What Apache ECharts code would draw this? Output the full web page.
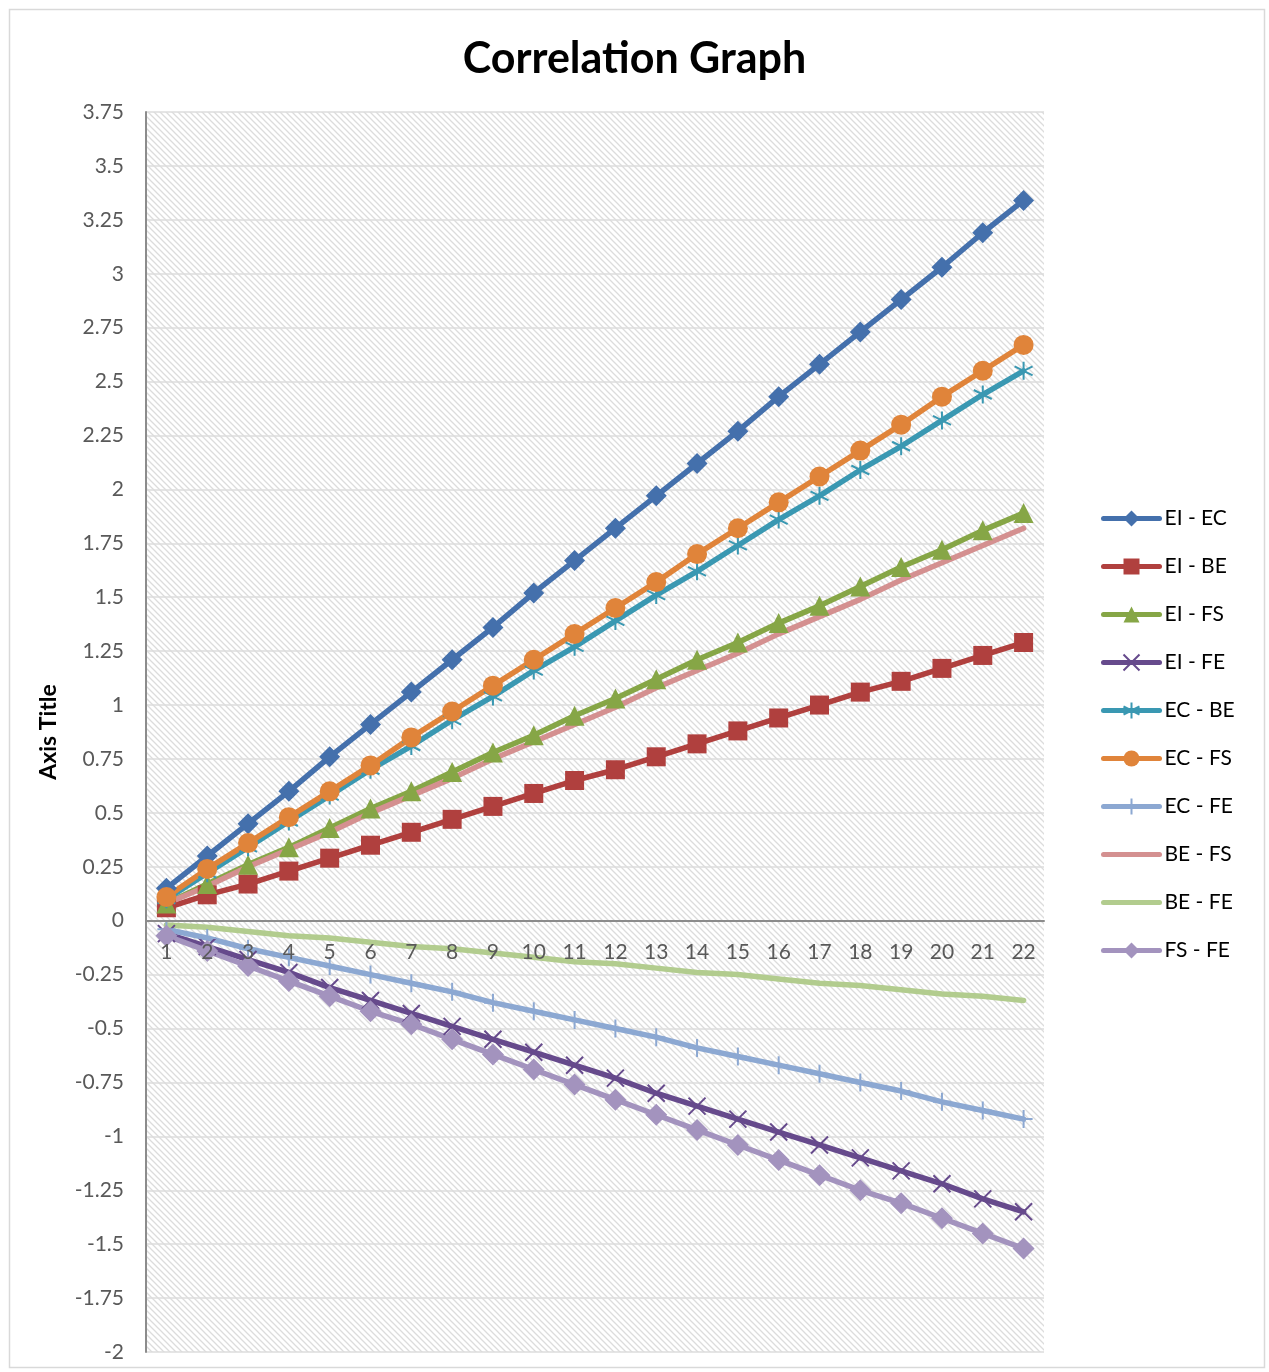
<!DOCTYPE html>
<html>
<head>
<meta charset="utf-8">
<script src="https://cdn.jsdelivr.net/npm/echarts@6/dist/echarts.min.js"></script>
<style>html,body{margin:0;padding:0;background:#fff;}#c{width:1269px;height:1372px;}</style>
</head>
<body>
<div id="c"></div>
<script>
const categories = ['1','2','3','4','5','6','7','8','9','10','11','12','13','14','15','16','17','18','19','20','21','22'];
const eiEc = [0.15,0.30,0.45,0.60,0.76,0.91,1.06,1.21,1.36,1.52,1.67,1.82,1.97,2.12,2.27,2.43,2.58,2.73,2.88,3.03,3.19,3.34];
const eiBe = [0.06,0.12,0.17,0.23,0.29,0.35,0.41,0.47,0.53,0.59,0.65,0.70,0.76,0.82,0.88,0.94,1.00,1.06,1.11,1.17,1.23,1.29];
const eiFs = [0.08,0.17,0.26,0.34,0.43,0.52,0.60,0.69,0.78,0.86,0.95,1.03,1.12,1.21,1.29,1.38,1.46,1.55,1.64,1.72,1.81,1.89];
const eiFe = [-0.06,-0.12,-0.18,-0.24,-0.31,-0.37,-0.43,-0.49,-0.55,-0.61,-0.67,-0.73,-0.80,-0.86,-0.92,-0.98,-1.04,-1.10,-1.16,-1.22,-1.29,-1.35];
const ecBe = [0.10,0.22,0.34,0.46,0.58,0.70,0.81,0.93,1.04,1.16,1.27,1.39,1.51,1.62,1.74,1.86,1.97,2.09,2.20,2.32,2.44,2.55];
const ecFs = [0.11,0.24,0.36,0.48,0.60,0.72,0.85,0.97,1.09,1.21,1.33,1.45,1.57,1.70,1.82,1.94,2.06,2.18,2.30,2.43,2.55,2.67];
const ecFe = [-0.04,-0.08,-0.13,-0.17,-0.21,-0.25,-0.29,-0.33,-0.38,-0.42,-0.46,-0.50,-0.54,-0.59,-0.63,-0.67,-0.71,-0.75,-0.79,-0.84,-0.88,-0.92];
const beFs = [0.08,0.16,0.25,0.33,0.41,0.50,0.58,0.66,0.75,0.83,0.91,0.99,1.08,1.16,1.24,1.33,1.41,1.49,1.58,1.66,1.74,1.82];
const beFe = [-0.02,-0.03,-0.05,-0.07,-0.08,-0.10,-0.12,-0.13,-0.15,-0.17,-0.19,-0.20,-0.22,-0.24,-0.25,-0.27,-0.29,-0.30,-0.32,-0.34,-0.35,-0.37];
const fsFe = [-0.07,-0.14,-0.21,-0.28,-0.35,-0.42,-0.48,-0.55,-0.62,-0.69,-0.76,-0.83,-0.90,-0.97,-1.04,-1.11,-1.18,-1.25,-1.31,-1.38,-1.45,-1.52];

const FONT = 'Lato, "Liberation Sans", sans-serif';

// hatch pattern (diagonal, dashed look)
const pc = document.createElement('canvas');
pc.width = 6; pc.height = 6;
const g = pc.getContext('2d');
g.fillStyle = '#ffffff'; g.fillRect(0,0,6,6);
g.strokeStyle = '#dcdcdc'; g.lineWidth = 1.3;
g.beginPath();
g.moveTo(0,0); g.lineTo(6,6);
g.moveTo(-3,3); g.lineTo(3,9);
g.moveTo(3,-3); g.lineTo(9,3);
g.stroke();

const X_PATH = 'path://M0,0L10,10M10,0L0,10';
const AST_PATH = 'path://M5,0L5,10M0.7,2.5L9.3,7.5M0.7,7.5L9.3,2.5';
const PLUS_PATH = 'path://M5,0L5,10M0,5L10,5';

const GRID_TOP = 112, GRID_BOTTOM = 20, CHART_H = 1372;
const Y_MIN = -2, Y_MAX = 3.75;
// distance from bottom edge of grid up to the zero line (layout only)
const zeroOffset = (CHART_H - GRID_BOTTOM - GRID_TOP) * (0 - Y_MIN) / (Y_MAX - Y_MIN);

function mk(name, data, color, symbol, size, kind) {
  const s = {
    name: name, type: 'line', data: data,
    symbol: symbol, symbolSize: size,
    lineStyle: { color: color, width: 5.5, cap: 'round', join: 'round' },
    itemStyle: { color: color },
    emphasis: { disabled: true },
    animation: false
  };
  if (kind === 'stroke') {
    s.itemStyle = { color: 'rgba(0,0,0,0)', borderColor: color, borderWidth: 2 };
  } else if (kind === 'none') {
    s.showSymbol = false;
    s.itemStyle = { color: 'rgba(0,0,0,0)' };
  }
  return s;
}

const chart = echarts.init(document.getElementById('c'));
chart.setOption({
  backgroundColor: '#ffffff',
  animation: false,
  title: {
    text: 'Correlation Graph', left: 'center', top: 33,
    textStyle: { fontFamily: FONT, fontWeight: 'bold', fontSize: 43, color: '#000' }
  },
  graphic: [{
    type: 'rect', left: 7, top: 7, z: -10,
    shape: { width: 1255, height: 1358 },
    style: { fill: 'none', stroke: '#d9d9d9', lineWidth: 1.5 }
  }],
  legend: {
    orient: 'vertical', left: 1096, top: 503,
    itemWidth: 56, itemHeight: 20, itemGap: 27,
    lineStyle: { width: 5, cap: 'round' },
    textStyle: { fontFamily: FONT, fontSize: 21, color: '#000' },
    data: ['EI - EC','EI - BE','EI - FS','EI - FE','EC - BE','EC - FS','EC - FE','BE - FS','BE - FE','FS - FE']
  },
  grid: {
    left: 146, right: 225, top: GRID_TOP, bottom: GRID_BOTTOM,
    outerBoundsMode: 'none', containLabel: false,
    show: true, backgroundColor: { image: pc, repeat: 'repeat' }, borderWidth: 0
  },
  xAxis: {
    type: 'category', data: categories, boundaryGap: true,
    position: 'bottom', offset: -zeroOffset, z: 5,
    axisLine: { onZero: false, lineStyle: { color: '#8c8c8c', width: 2 } },
    axisTick: { show: false },
    axisLabel: { fontFamily: FONT, fontSize: 21, color: '#595959', margin: 21 },
    splitLine: { show: false }
  },
  yAxis: {
    type: 'value', min: Y_MIN, max: Y_MAX, interval: 0.25,
    name: 'Axis Title', nameLocation: 'middle', nameGap: 86, nameRotate: 90,
    nameTextStyle: { fontFamily: FONT, fontWeight: 'bold', fontSize: 23, color: '#000' },
    axisLine: { show: true, lineStyle: { color: '#8c8c8c', width: 2 } },
    axisTick: { show: false },
    axisLabel: { fontFamily: FONT, fontSize: 21, color: '#595959', margin: 22 },
    splitLine: { lineStyle: { color: '#dcdcdc', width: 1.5 } }
  },
  series: [
    mk('EI - EC', eiEc, '#4470AC', 'diamond', 21),
    mk('EI - BE', eiBe, '#B0403E', 'rect', 19),
    mk('EI - FS', eiFs, '#86A646', 'triangle', 20),
    mk('EI - FE', eiFe, '#664A8C', X_PATH, 17, 'stroke'),
    mk('EC - BE', ecBe, '#3A98B2', AST_PATH, 18, 'stroke'),
    mk('EC - FS', ecFs, '#E0843A', 'circle', 20),
    mk('EC - FE', ecFe, '#8CA8D2', PLUS_PATH, 18, 'stroke'),
    mk('BE - FS', beFs, '#D49090', 'circle', 1, 'none'),
    mk('BE - FE', beFe, '#B2CC8E', 'circle', 1, 'none'),
    mk('FS - FE', fsFe, '#A393BE', 'diamond', 22)
  ]
});
</script>
</body>
</html>
